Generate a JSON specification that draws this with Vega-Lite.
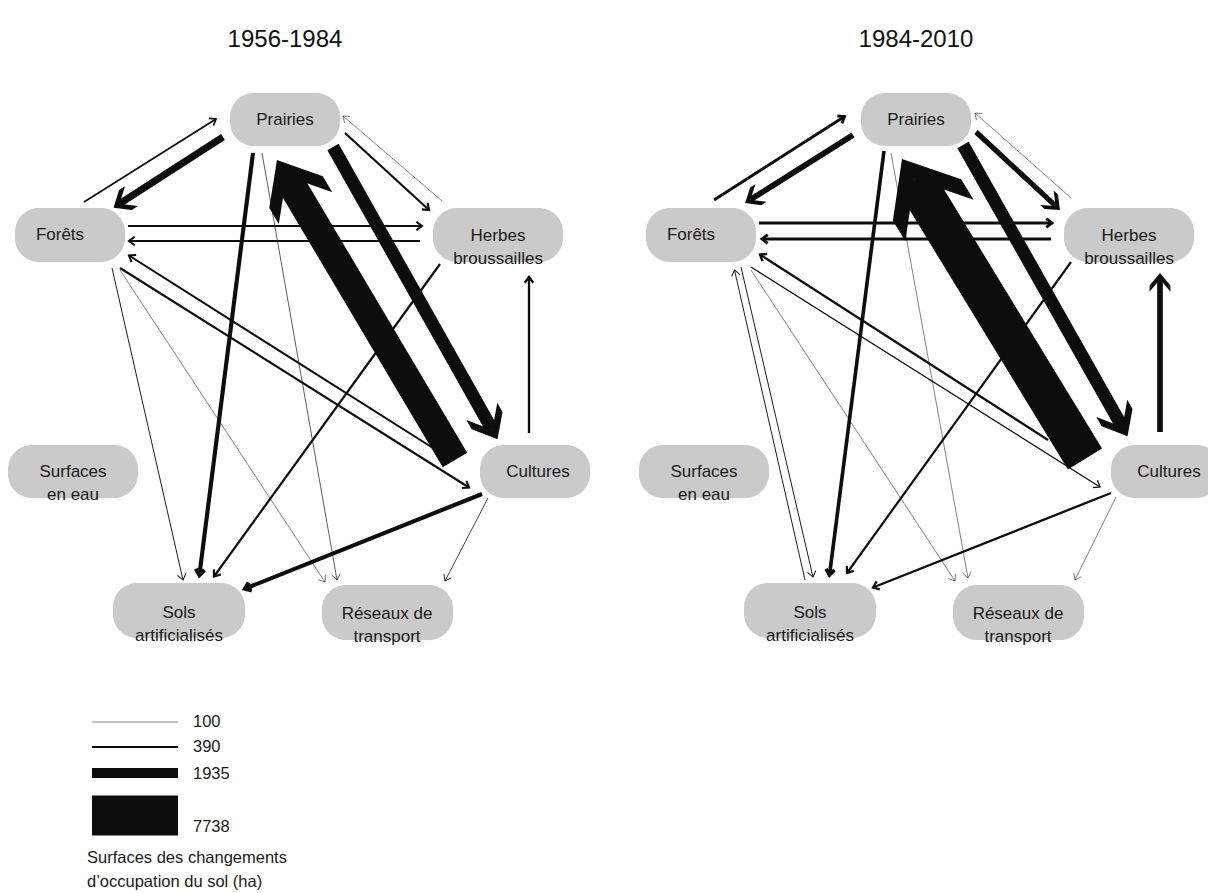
{
  "$schema": "https://vega.github.io/schema/vega-lite/v6.json",
  "background": "white",
  "padding": 0,
  "spacing": 54,
  "bounds": "flush",
  "config": {"view": {"stroke": null}, "font": "Liberation Sans"},
  "datasets": {
    "nodes": [
      {"label": "Prairies", "bx1": 230, "bx2": 340, "by1": 93, "by2": 146, "tx": 285, "ty": 120},
      {"label": "Forêts", "bx1": 15, "bx2": 125, "by1": 208, "by2": 262, "tx": 60, "ty": 235},
      {"label": "Herbes\nbroussailles", "bx1": 433, "bx2": 563, "by1": 208, "by2": 262, "tx": 498, "ty": 236},
      {"label": "Surfaces\nen eau", "bx1": 8, "bx2": 138, "by1": 445, "by2": 498, "tx": 73, "ty": 472},
      {"label": "Cultures", "bx1": 480, "bx2": 590, "by1": 445, "by2": 498, "tx": 538, "ty": 472},
      {"label": "Sols\nartificialisés", "bx1": 113, "bx2": 245, "by1": 583, "by2": 638, "tx": 179, "ty": 613},
      {"label": "Réseaux de\ntransport", "bx1": 322, "bx2": 453, "by1": 585, "by2": 640, "tx": 387, "ty": 614}
    ],
    "edges": [
      {"period": "1956-1984", "from": "Forêts", "to": "Prairies", "value": 330, "x1": 84, "y1": 202, "x2": 216, "y2": 119},
      {"period": "1956-1984", "from": "Prairies", "to": "Forêts", "value": 1350, "x1": 223, "y1": 137, "x2": 119.5, "y2": 203.8},
      {"period": "1956-1984", "from": "Prairies", "to": "Sols artificialisés", "value": 800, "x1": 253, "y1": 153, "x2": 199.4, "y2": 575},
      {"period": "1956-1984", "from": "Prairies", "to": "Réseaux de transport", "value": 130, "x1": 262, "y1": 153, "x2": 337, "y2": 580},
      {"period": "1956-1984", "from": "Prairies", "to": "Herbes broussailles", "value": 420, "x1": 345, "y1": 133, "x2": 429, "y2": 210},
      {"period": "1956-1984", "from": "Herbes broussailles", "to": "Prairies", "value": 100, "x1": 442, "y1": 201, "x2": 343, "y2": 116},
      {"period": "1956-1984", "from": "Prairies", "to": "Cultures", "value": 2500, "x1": 333, "y1": 147, "x2": 492.3, "y2": 429.9},
      {"period": "1956-1984", "from": "Cultures", "to": "Prairies", "value": 5500, "x1": 455, "y1": 460, "x2": 286.5, "y2": 176},
      {"period": "1956-1984", "from": "Forêts", "to": "Herbes broussailles", "value": 400, "x1": 128, "y1": 226, "x2": 422, "y2": 226},
      {"period": "1956-1984", "from": "Herbes broussailles", "to": "Forêts", "value": 400, "x1": 420, "y1": 241, "x2": 129, "y2": 241},
      {"period": "1956-1984", "from": "Cultures", "to": "Forêts", "value": 400, "x1": 433, "y1": 448, "x2": 129, "y2": 255.5},
      {"period": "1956-1984", "from": "Forêts", "to": "Cultures", "value": 400, "x1": 120, "y1": 268, "x2": 469, "y2": 487.5},
      {"period": "1956-1984", "from": "Forêts", "to": "Sols artificialisés", "value": 180, "x1": 112, "y1": 268, "x2": 183, "y2": 580},
      {"period": "1956-1984", "from": "Forêts", "to": "Réseaux de transport", "value": 100, "x1": 120, "y1": 270, "x2": 325, "y2": 582},
      {"period": "1956-1984", "from": "Herbes broussailles", "to": "Sols artificialisés", "value": 420, "x1": 440, "y1": 264, "x2": 214, "y2": 576.5},
      {"period": "1956-1984", "from": "Cultures", "to": "Herbes broussailles", "value": 450, "x1": 529, "y1": 433, "x2": 529, "y2": 277},
      {"period": "1956-1984", "from": "Cultures", "to": "Sols artificialisés", "value": 800, "x1": 482, "y1": 494, "x2": 245, "y2": 588.7},
      {"period": "1956-1984", "from": "Cultures", "to": "Réseaux de transport", "value": 150, "x1": 488, "y1": 498, "x2": 445, "y2": 581},
      {"period": "1984-2010", "from": "Forêts", "to": "Prairies", "value": 550, "x1": 83, "y1": 200, "x2": 213.5, "y2": 116.5},
      {"period": "1984-2010", "from": "Prairies", "to": "Forêts", "value": 1100, "x1": 222, "y1": 135, "x2": 119.4, "y2": 199.7},
      {"period": "1984-2010", "from": "Prairies", "to": "Sols artificialisés", "value": 700, "x1": 253, "y1": 151, "x2": 198.5, "y2": 575},
      {"period": "1984-2010", "from": "Prairies", "to": "Réseaux de transport", "value": 100, "x1": 260, "y1": 153, "x2": 337, "y2": 578},
      {"period": "1984-2010", "from": "Prairies", "to": "Herbes broussailles", "value": 1000, "x1": 345, "y1": 132, "x2": 424.6, "y2": 205.9},
      {"period": "1984-2010", "from": "Herbes broussailles", "to": "Prairies", "value": 100, "x1": 440, "y1": 198, "x2": 344, "y2": 113},
      {"period": "1984-2010", "from": "Prairies", "to": "Cultures", "value": 2500, "x1": 332, "y1": 145, "x2": 491.3, "y2": 426.9},
      {"period": "1984-2010", "from": "Cultures", "to": "Prairies", "value": 7738, "x1": 454, "y1": 459, "x2": 283.5, "y2": 179.5},
      {"period": "1984-2010", "from": "Forêts", "to": "Herbes broussailles", "value": 550, "x1": 128, "y1": 223, "x2": 421, "y2": 223},
      {"period": "1984-2010", "from": "Herbes broussailles", "to": "Forêts", "value": 550, "x1": 420, "y1": 239, "x2": 131, "y2": 239},
      {"period": "1984-2010", "from": "Cultures", "to": "Forêts", "value": 450, "x1": 417, "y1": 440, "x2": 129, "y2": 254.5},
      {"period": "1984-2010", "from": "Forêts", "to": "Cultures", "value": 250, "x1": 120, "y1": 267, "x2": 469, "y2": 487},
      {"period": "1984-2010", "from": "Forêts", "to": "Sols artificialisés", "value": 180, "x1": 110, "y1": 267, "x2": 182, "y2": 577},
      {"period": "1984-2010", "from": "Sols artificialisés", "to": "Forêts", "value": 180, "x1": 174, "y1": 580, "x2": 103.5, "y2": 270},
      {"period": "1984-2010", "from": "Forêts", "to": "Réseaux de transport", "value": 100, "x1": 120, "y1": 270, "x2": 324, "y2": 581},
      {"period": "1984-2010", "from": "Herbes broussailles", "to": "Sols artificialisés", "value": 420, "x1": 440, "y1": 262, "x2": 216, "y2": 573},
      {"period": "1984-2010", "from": "Cultures", "to": "Herbes broussailles", "value": 1100, "x1": 529, "y1": 432, "x2": 529, "y2": 279.3},
      {"period": "1984-2010", "from": "Cultures", "to": "Sols artificialisés", "value": 450, "x1": 480, "y1": 493, "x2": 242, "y2": 587.5},
      {"period": "1984-2010", "from": "Cultures", "to": "Réseaux de transport", "value": 100, "x1": 485, "y1": 497, "x2": 444, "y2": 580}
    ],
    "legend": [
      {"value": 100, "label": "100", "lx1": 92, "lx2": 178, "ly": 722, "tx": 193, "ty": 722},
      {"value": 390, "label": "390", "lx1": 92, "lx2": 178, "ly": 747, "tx": 193, "ty": 747},
      {"value": 1935, "label": "1935", "lx1": 92, "lx2": 178, "ly": 773, "tx": 193, "ty": 774},
      {"value": 7738, "label": "7738", "lx1": 92, "lx2": 178, "ly": 815.5, "tx": 193, "ty": 827}
    ],
    "captions": [
      {"period": "1956-1984", "role": "title", "text": "1956-1984", "x": 285, "y": 40},
      {"period": "1984-2010", "role": "title", "text": "1984-2010", "x": 285, "y": 40},
      {"period": "1956-1984", "role": "legend", "text": "Surfaces des changements\nd’occupation du sol (ha)", "x": 87, "y": 858}
    ]
  },
  "hconcat": [
    {
      "width": 577,
      "height": 893,
      "layer": [
        {
          "data": {"name": "captions"},
          "transform": [{"filter": "datum.period === '1956-1984' && datum.role === 'title'"}],
          "mark": {"type": "text", "fontSize": 24, "align": "center", "baseline": "middle", "color": "#111"},
          "encoding": {
            "x": {"field": "x", "type": "quantitative", "scale": {"domain": [0, 577], "nice": false, "zero": false}, "axis": null},
            "y": {"field": "y", "type": "quantitative", "scale": {"domain": [0, 893], "nice": false, "zero": false, "reverse": true}, "axis": null},
            "text": {"field": "text"}
          }
        },
        {
          "data": {"name": "nodes"},
          "mark": {"type": "rect", "cornerRadius": 24, "color": "#cacaca"},
          "encoding": {
            "x": {"field": "bx1", "type": "quantitative", "scale": {"domain": [0, 577], "nice": false, "zero": false}, "axis": null},
            "x2": {"field": "bx2"},
            "y": {"field": "by1", "type": "quantitative", "scale": {"domain": [0, 893], "nice": false, "zero": false, "reverse": true}, "axis": null},
            "y2": {"field": "by2"}
          }
        },
        {
          "data": {"name": "nodes"},
          "mark": {"type": "text", "fontSize": 17, "align": "center", "baseline": "middle", "lineBreak": "\n", "lineHeight": 23, "color": "#1a1a1a"},
          "encoding": {
            "x": {"field": "tx", "type": "quantitative", "scale": {"domain": [0, 577], "nice": false, "zero": false}, "axis": null},
            "y": {"field": "ty", "type": "quantitative", "scale": {"domain": [0, 893], "nice": false, "zero": false, "reverse": true}, "axis": null},
            "text": {"field": "label"}
          }
        },
        {
          "data": {"name": "edges"},
          "transform": [{"filter": "datum.period === '1956-1984'"}],
          "mark": {"type": "rule", "color": "#0d0d0d"},
          "encoding": {
            "x": {"field": "x1", "type": "quantitative", "scale": {"domain": [0, 577], "nice": false, "zero": false}, "axis": null},
            "x2": {"field": "x2"},
            "y": {"field": "y1", "type": "quantitative", "scale": {"domain": [0, 893], "nice": false, "zero": false, "reverse": true}, "axis": null},
            "y2": {"field": "y2"},
            "strokeWidth": {"field": "value", "type": "quantitative", "scale": {"domain": [0, 7738], "range": [0, 40]}, "legend": null}
          }
        },
        {
          "data": {"name": "edges"},
          "transform": [
            {"filter": "datum.period === '1956-1984' && datum.value < 900"},
            {"calculate": "atan2(datum.y2 - datum.y1, datum.x2 - datum.x1) * 180 / PI", "as": "angle"}
          ],
          "mark": {"type": "point", "shape": "M-1,-0.75L0,0L-1,0.75", "filled": false, "size": 130, "opacity": 1, "strokeJoin": "miter", "color": "#0d0d0d"},
          "encoding": {
            "x": {"field": "x2", "type": "quantitative", "scale": {"domain": [0, 577], "nice": false, "zero": false}, "axis": null},
            "y": {"field": "y2", "type": "quantitative", "scale": {"domain": [0, 893], "nice": false, "zero": false, "reverse": true}, "axis": null},
            "strokeWidth": {"field": "value", "type": "quantitative", "scale": {"domain": [0, 7738], "range": [0, 40]}, "legend": null},
            "angle": {"field": "angle", "type": "quantitative", "scale": null}
          }
        },
        {
          "data": {"name": "edges"},
          "transform": [
            {"filter": "datum.period === '1956-1984' && datum.value >= 900"},
            {"calculate": "atan2(datum.y2 - datum.y1, datum.x2 - datum.x1) * 180 / PI", "as": "angle"}
          ],
          "mark": {"type": "point", "shape": "M0.6,0L-0.6,-1L-1.2,-1L0,0L-1.2,1L-0.6,1Z", "filled": true, "opacity": 1, "strokeWidth": 0, "color": "#0d0d0d"},
          "encoding": {
            "x": {"field": "x2", "type": "quantitative", "scale": {"domain": [0, 577], "nice": false, "zero": false}, "axis": null},
            "y": {"field": "y2", "type": "quantitative", "scale": {"domain": [0, 893], "nice": false, "zero": false, "reverse": true}, "axis": null},
            "size": {"field": "value", "type": "quantitative", "scale": {"type": "pow", "exponent": 1.5, "domain": [0, 7738], "range": [100, 6400]}, "legend": null},
            "angle": {"field": "angle", "type": "quantitative", "scale": null}
          }
        },
        {
          "data": {"name": "legend"},
          "mark": {"type": "rule", "color": "#0d0d0d"},
          "encoding": {
            "x": {"field": "lx1", "type": "quantitative", "scale": {"domain": [0, 577], "nice": false, "zero": false}, "axis": null},
            "x2": {"field": "lx2"},
            "y": {"field": "ly", "type": "quantitative", "scale": {"domain": [0, 893], "nice": false, "zero": false, "reverse": true}, "axis": null},
            "strokeWidth": {"field": "value", "type": "quantitative", "scale": {"domain": [0, 7738], "range": [0, 40]}, "legend": null}
          }
        },
        {
          "data": {"name": "legend"},
          "mark": {"type": "text", "fontSize": 16.5, "align": "left", "baseline": "middle", "color": "#1a1a1a"},
          "encoding": {
            "x": {"field": "tx", "type": "quantitative", "scale": {"domain": [0, 577], "nice": false, "zero": false}, "axis": null},
            "y": {"field": "ty", "type": "quantitative", "scale": {"domain": [0, 893], "nice": false, "zero": false, "reverse": true}, "axis": null},
            "text": {"field": "label"}
          }
        },
        {
          "data": {"name": "captions"},
          "transform": [{"filter": "datum.role === 'legend'"}],
          "mark": {"type": "text", "fontSize": 16.5, "align": "left", "baseline": "middle", "lineBreak": "\n", "lineHeight": 24, "color": "#1a1a1a"},
          "encoding": {
            "x": {"field": "x", "type": "quantitative", "scale": {"domain": [0, 577], "nice": false, "zero": false}, "axis": null},
            "y": {"field": "y", "type": "quantitative", "scale": {"domain": [0, 893], "nice": false, "zero": false, "reverse": true}, "axis": null},
            "text": {"field": "text"}
          }
        }
      ]
    },
    {
      "width": 577,
      "height": 893,
      "layer": [
        {
          "data": {"name": "captions"},
          "transform": [{"filter": "datum.period === '1984-2010' && datum.role === 'title'"}],
          "mark": {"type": "text", "fontSize": 24, "align": "center", "baseline": "middle", "color": "#111"},
          "encoding": {
            "x": {"field": "x", "type": "quantitative", "scale": {"domain": [0, 577], "nice": false, "zero": false}, "axis": null},
            "y": {"field": "y", "type": "quantitative", "scale": {"domain": [0, 893], "nice": false, "zero": false, "reverse": true}, "axis": null},
            "text": {"field": "text"}
          }
        },
        {
          "data": {"name": "nodes"},
          "mark": {"type": "rect", "cornerRadius": 24, "color": "#cacaca", "clip": true},
          "encoding": {
            "x": {"field": "bx1", "type": "quantitative", "scale": {"domain": [0, 577], "nice": false, "zero": false}, "axis": null},
            "x2": {"field": "bx2"},
            "y": {"field": "by1", "type": "quantitative", "scale": {"domain": [0, 893], "nice": false, "zero": false, "reverse": true}, "axis": null},
            "y2": {"field": "by2"}
          }
        },
        {
          "data": {"name": "nodes"},
          "mark": {"type": "text", "fontSize": 17, "align": "center", "baseline": "middle", "lineBreak": "\n", "lineHeight": 23, "color": "#1a1a1a"},
          "encoding": {
            "x": {"field": "tx", "type": "quantitative", "scale": {"domain": [0, 577], "nice": false, "zero": false}, "axis": null},
            "y": {"field": "ty", "type": "quantitative", "scale": {"domain": [0, 893], "nice": false, "zero": false, "reverse": true}, "axis": null},
            "text": {"field": "label"}
          }
        },
        {
          "data": {"name": "edges"},
          "transform": [{"filter": "datum.period === '1984-2010'"}],
          "mark": {"type": "rule", "color": "#0d0d0d"},
          "encoding": {
            "x": {"field": "x1", "type": "quantitative", "scale": {"domain": [0, 577], "nice": false, "zero": false}, "axis": null},
            "x2": {"field": "x2"},
            "y": {"field": "y1", "type": "quantitative", "scale": {"domain": [0, 893], "nice": false, "zero": false, "reverse": true}, "axis": null},
            "y2": {"field": "y2"},
            "strokeWidth": {"field": "value", "type": "quantitative", "scale": {"domain": [0, 7738], "range": [0, 40]}, "legend": null}
          }
        },
        {
          "data": {"name": "edges"},
          "transform": [
            {"filter": "datum.period === '1984-2010' && datum.value < 900"},
            {"calculate": "atan2(datum.y2 - datum.y1, datum.x2 - datum.x1) * 180 / PI", "as": "angle"}
          ],
          "mark": {"type": "point", "shape": "M-1,-0.75L0,0L-1,0.75", "filled": false, "size": 130, "opacity": 1, "strokeJoin": "miter", "color": "#0d0d0d"},
          "encoding": {
            "x": {"field": "x2", "type": "quantitative", "scale": {"domain": [0, 577], "nice": false, "zero": false}, "axis": null},
            "y": {"field": "y2", "type": "quantitative", "scale": {"domain": [0, 893], "nice": false, "zero": false, "reverse": true}, "axis": null},
            "strokeWidth": {"field": "value", "type": "quantitative", "scale": {"domain": [0, 7738], "range": [0, 40]}, "legend": null},
            "angle": {"field": "angle", "type": "quantitative", "scale": null}
          }
        },
        {
          "data": {"name": "edges"},
          "transform": [
            {"filter": "datum.period === '1984-2010' && datum.value >= 900"},
            {"calculate": "atan2(datum.y2 - datum.y1, datum.x2 - datum.x1) * 180 / PI", "as": "angle"}
          ],
          "mark": {"type": "point", "shape": "M0.6,0L-0.6,-1L-1.2,-1L0,0L-1.2,1L-0.6,1Z", "filled": true, "opacity": 1, "strokeWidth": 0, "color": "#0d0d0d"},
          "encoding": {
            "x": {"field": "x2", "type": "quantitative", "scale": {"domain": [0, 577], "nice": false, "zero": false}, "axis": null},
            "y": {"field": "y2", "type": "quantitative", "scale": {"domain": [0, 893], "nice": false, "zero": false, "reverse": true}, "axis": null},
            "size": {"field": "value", "type": "quantitative", "scale": {"type": "pow", "exponent": 1.5, "domain": [0, 7738], "range": [100, 6400]}, "legend": null},
            "angle": {"field": "angle", "type": "quantitative", "scale": null}
          }
        }
      ]
    }
  ]
}
